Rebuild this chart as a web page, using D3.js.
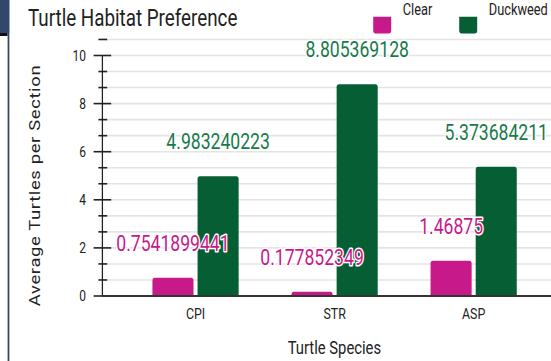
<!DOCTYPE html>
<html>
<head>
<meta charset="utf-8">
<script src="https://cdn.jsdelivr.net/npm/d3@7"></script>
<style>
  html, body { margin: 0; padding: 0; background: #fff; }
  svg { display: block; }
  text { font-family: Roboto, "Liberation Sans", Arial, sans-serif; }
</style>
</head>
<body>
<div id="chart"></div>
<script>
// ---- data ----
const categories = ["CPI", "STR", "ASP"];
const seriesNames = ["Clear", "Duckweed"];
const clearValues = [0.7541899441, 0.177852349, 1.46875];
const duckweedValues = [4.983240223, 8.805369128, 5.373684211];
const labelClear = ["0.7541899441", "0.177852349", "1.46875"];
const labelDuckweed = ["4.983240223", "8.805369128", "5.373684211"];
const yTicks = [0, 2, 4, 6, 8, 10];
const title = "Turtle Habitat Preference";
const xTitle = "Turtle Species";
const yTitle = "Average Turtles per Section";

const colors = { Clear: "#c8198a", Duckweed: "#065f34" };
const textColors = { Clear: "#c8198a", Duckweed: "#177a49" };

// ---- layout (drawn in a wider space, squeezed horizontally to 551px) ----
const W = 551, H = 361, SX = 0.8;
const VW = W / SX;
const svg = d3.select("#chart").append("svg")
  .attr("width", W).attr("height", H)
  .attr("viewBox", `0 0 ${VW} ${H}`)
  .attr("preserveAspectRatio", "none");

const axisX = 128;
const y = d3.scaleLinear().domain([0, 10]).range([296, 55.5]);
const x0 = d3.scaleBand().domain(categories).range([157.5, 679]).paddingInner(0.38).paddingOuter(0.19);
const x1 = d3.scaleBand().domain(seriesNames).range([0, x0.bandwidth()]).paddingInner(0.09);

// frame decorations on the left edge
svg.append("rect").attr("x", 0).attr("y", 0).attr("width", 11.5).attr("height", 33).attr("fill", "#33476a");
svg.append("rect").attr("x", 0).attr("y", 33).attr("width", 9.5).attr("height", 3).attr("fill", "#111");
svg.append("rect").attr("x", 9.5).attr("y", 0).attr("width", 2.2).attr("height", H).attr("fill", "#33476a");

// gridlines (major + 2 minor per interval)
const gridVals = d3.range(0, 16.5).map(i => i * 10 / 15);
svg.append("g").selectAll("line").data(gridVals).join("line")
  .attr("x1", axisX).attr("x2", VW)
  .attr("y1", d => y(d)).attr("y2", d => y(d))
  .attr("stroke", "#e4e4e4").attr("stroke-width", 1.6);

// y axis line + ticks
const tickG = svg.append("g").attr("stroke", "#222").attr("stroke-width", 1.6);
tickG.append("line").attr("x1", axisX).attr("x2", axisX).attr("y1", y(10)).attr("y2", y(0));
const minorVals = gridVals.filter((d, i) => i % 3 !== 0);
tickG.selectAll(".minor").data(minorVals).join("line").attr("class", "minor")
  .attr("x1", axisX - 5).attr("x2", axisX + 6)
  .attr("y1", d => y(d)).attr("y2", d => y(d));
tickG.selectAll(".major").data(yTicks).join("line").attr("class", "major")
  .attr("x1", axisX - 11).attr("x2", axisX + 11)
  .attr("y1", d => y(d)).attr("y2", d => y(d));

// y tick labels
svg.append("g").selectAll("text").data(yTicks).join("text")
  .attr("x", 107.5).attr("y", d => y(d)).attr("dy", "0.36em")
  .attr("text-anchor", "end").attr("font-size", 15).attr("fill", "#222")
  .text(d => d);

// bars with rounded top corners
function barPath(x, yTop, w, yBase, r) {
  r = Math.min(r, (yBase - yTop), w / 2);
  return `M${x},${yBase}V${yTop + r}Q${x},${yTop} ${x + r},${yTop}H${x + w - r}Q${x + w},${yTop} ${x + w},${yTop + r}V${yBase}Z`;
}
const rows = categories.map((c, i) => ({
  cat: c,
  vals: [
    { s: "Clear", v: clearValues[i], lbl: labelClear[i] },
    { s: "Duckweed", v: duckweedValues[i], lbl: labelDuckweed[i] }
  ]
}));
const groups = svg.append("g").selectAll("g").data(rows).join("g")
  .attr("transform", d => `translate(${x0(d.cat)},0)`);
groups.selectAll("path").data(d => d.vals).join("path")
  .attr("d", d => barPath(x1(d.s), y(d.v), x1.bandwidth(), y(0), 3))
  .attr("fill", d => colors[d.s]);

// x axis baseline
svg.append("line").attr("x1", axisX).attr("x2", VW).attr("y1", y(0)).attr("y2", y(0))
  .attr("stroke", "#333").attr("stroke-width", 2);

// data labels
groups.selectAll("text.lbl").data(d => d.vals).join("text").attr("class", "lbl")
  .attr("x", d => x1(d.s) + x1.bandwidth() / 2)
  .attr("y", d => y(d.v) - 27)
  .attr("text-anchor", "middle").attr("font-size", 22)
  .attr("fill", d => textColors[d.s])
  .attr("stroke", "#fff").attr("stroke-width", 3).attr("paint-order", "stroke")
  .attr("stroke-linejoin", "round")
  .text(d => d.lbl);

// x tick labels
svg.append("g").selectAll("text").data(categories).join("text")
  .attr("x", d => x0(d) + x0.bandwidth() / 2).attr("y", 319.3)
  .attr("text-anchor", "middle").attr("font-size", 15.5).attr("fill", "#222")
  .text(d => d);

// axis titles
svg.append("text").attr("x", 418).attr("y", 354.3).attr("text-anchor", "middle")
  .attr("font-size", 18.5).attr("fill", "#222").text(xTitle);
svg.append("text").attr("transform", `translate(50,185.5) rotate(-90)`)
  .attr("text-anchor", "middle").attr("font-size", 18.4).attr("fill", "#222")
  .attr("letter-spacing", 0.65)
  .text(yTitle);

// title
svg.append("text").attr("x", 35).attr("y", 25.7).attr("font-size", 23.5).attr("fill", "#222").text(title);

// legend
const legendX = [466.5, 574];
const leg = svg.append("g").selectAll("g").data(seriesNames).join("g")
  .attr("transform", (d, i) => `translate(${legendX[i]},0)`);
leg.append("path").attr("d", barPath(0, -16.7, 22.5, 0, 3)).attr("transform", "translate(0,16.7) scale(1,-1)")
  .attr("fill", d => colors[d]);
leg.append("text").attr("x", 37).attr("y", 15.5).attr("font-size", 16).attr("fill", "#222").text(d => d);
</script>
</body>
</html>
